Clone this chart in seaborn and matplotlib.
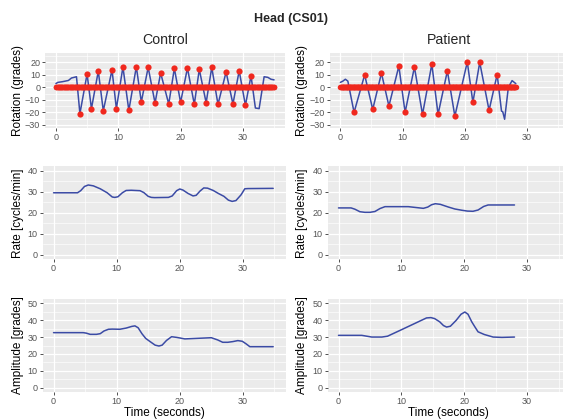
import numpy as np
import matplotlib
matplotlib.use('Agg')
import matplotlib.pyplot as plt
import seaborn as sns
from matplotlib import ticker

# ── Data ──────────────────────────────────────────────────────────────────────

# Control rotation: detected peaks (red dots) + remaining shape points of the trace
ctrl_peak_t = [3.85, 5.0, 5.7, 6.8, 7.6, 9.0, 9.7, 10.75, 11.7, 12.9, 13.7, 14.8, 15.9, 16.8,
               18.1, 19.0, 20.0, 21.1, 22.2, 23.0, 24.1, 25.0, 26.0, 27.3, 28.4, 29.4, 30.4, 31.3]
ctrl_peak_y = [-21, 10.7, -17, 13, -18.7, 14, -17, 16.3, -18.4, 16.5, -11.7, 16, -12.5, 11.5,
               -13.3, 15.2, -12, 15.5, -13.6, 14.4, -12.3, 16, -13.6, 12.3, -13.3, 13.3, -14.4, 9.3]
ctrl_other_t = [0, 0.3, 1.0, 2.0, 2.5, 3.3, 32.0, 32.6, 33.4, 34.0, 34.5, 35.0]
ctrl_other_y = [3, 4, 4.5, 5.5, 7.5, 8.5, -16.5, -17, 8.5, 8, 6.5, 6]

# Patient rotation
pat_peak_t = [2.2, 3.9, 5.2, 6.6, 7.8, 9.4, 10.4, 11.9, 13.2, 14.7, 15.7, 17.2, 18.4,
              20.4, 21.3, 22.4, 23.9, 25.2]
pat_peak_y = [-20, 10, -17.6, 11.4, -14.9, 17, -20, 16.2, -21.6, 18.6, -21.6, 13.2, -23,
              20.3, -12, 20, -18.4, 10.3]
pat_other_t = [0, 0.4, 0.8, 1.2, 25.9, 26.1, 26.4, 27.0, 27.6, 28.2]
pat_other_y = [4, 5, 6.5, 5, -19, -19.5, -25.5, 0, 5.4, 3]

ctrl_end = 35.0
pat_end = 28.2

# Rate [cycles/min]
ctrl_rate_t = [0, 3.8, 4.3, 4.9, 5.5, 6.3, 7.4, 8.5, 9.3, 9.7, 10.2, 10.9, 11.5, 12.3, 13.7,
               14.3, 15.0, 15.5, 16.0, 18.2, 18.8, 19.5, 20.0, 20.5, 21.3, 22.1, 22.6, 23.2,
               23.8, 24.4, 25.3, 26.1, 27.0, 27.7, 28.3, 28.9, 29.7, 30.3, 30.8, 34.8]
ctrl_rate_y = [29.5, 29.5, 30.5, 32.5, 33.2, 32.8, 31.4, 29.5, 27.5, 27.3, 27.6, 29.5, 30.6, 30.7, 30.5,
               29.6, 27.8, 27.3, 27.2, 27.3, 28.0, 30.5, 31.3, 30.8, 29.2, 28.0, 28.3, 30.3,
               31.8, 31.7, 30.6, 29.2, 27.8, 26.0, 25.4, 25.8, 28.5, 31.4, 31.5, 31.6]
pat_rate_t = [0, 2.0, 2.6, 3.4, 4.2, 5.0, 5.8, 6.6, 7.4, 11.1, 13.5, 14.2, 14.8, 15.4, 16.2,
              17.5, 18.5, 19.6, 20.5, 21.4, 22.2, 23.1, 23.8, 28.0]
pat_rate_y = [22.3, 22.3, 21.7, 20.5, 20.2, 20.2, 20.6, 22.0, 22.9, 22.9, 22.1, 22.7, 23.8, 24.3, 24.0,
              22.7, 21.8, 21.2, 20.8, 20.7, 21.3, 23.0, 23.7, 23.7]

# Amplitude [grades]
ctrl_amp_t = [0, 4.7, 5.2, 5.8, 6.8, 7.4, 8.0, 8.7, 9.3, 10.5, 11.5, 12.4, 12.9, 13.4, 14.0,
              14.6, 15.3, 16.1, 16.7, 17.2, 17.9, 18.7, 19.5, 20.8, 25.0, 26.0, 26.8, 27.6,
              28.4, 29.2, 29.9, 30.5, 31.1, 31.8, 34.8]
ctrl_amp_y = [32.6, 32.6, 32.3, 31.6, 31.6, 32.0, 33.6, 34.6, 34.7, 34.6, 35.3, 36.3, 36.6, 35.5, 32.0,
              29.2, 27.3, 25.2, 24.7, 25.2, 28.0, 30.2, 29.8, 28.9, 29.6, 28.3, 26.9, 26.9,
              27.3, 27.9, 27.5, 26.0, 24.3, 24.3, 24.3]
pat_amp_t = [0, 3.7, 4.5, 5.3, 6.9, 7.8, 10.0, 12.0, 14.0, 14.7, 15.3, 16.1, 16.7, 17.2, 17.8,
             18.7, 19.5, 20.1, 20.6, 21.2, 21.7, 22.2, 23.2, 24.6, 26.0, 28.0]
pat_amp_y = [31.0, 31.0, 30.5, 30.0, 30.0, 30.5, 34.3, 37.8, 41.3, 41.5, 40.9, 39.0, 36.8, 35.9, 36.4,
             39.8, 43.5, 44.8, 43.5, 39.0, 36.0, 33.1, 31.5, 30.0, 29.8, 30.0]

line_color = '#3B4BA5'
dot_color = '#F0281E'

# ── Style ─────────────────────────────────────────────────────────────────────

sns.set_theme(style='darkgrid', rc={'axes.facecolor': '#EBEBEB', 'grid.color': 'white'})
plt.rcParams['font.family'] = ['Liberation Sans', 'DejaVu Sans']

W, H = 563, 419
fig = plt.figure(figsize=(W / 100, H / 100), dpi=100)
fig.patch.set_facecolor('white')


def px_axes(left, top, right, bottom):
    return fig.add_axes([left / W, 1 - bottom / H, (right - left) / W, (bottom - top) / H])


def style_axes(ax, ylim, ymajor, ylabel, label_x_px, left_px, right_px):
    ax.set_xlim(-1.75, 36.75)
    ax.set_ylim(*ylim)
    ax.xaxis.set_major_locator(ticker.MultipleLocator(10))
    ax.xaxis.set_minor_locator(ticker.MultipleLocator(5))
    ax.yaxis.set_major_locator(ticker.MultipleLocator(ymajor))
    ax.yaxis.set_minor_locator(ticker.MultipleLocator(ymajor / 2))
    ax.grid(which='major', color='white', lw=0.9)
    ax.grid(which='minor', color='white', lw=0.45)
    ax.set_axisbelow(True)
    for s in ax.spines.values():
        s.set_visible(False)
    ax.tick_params(which='major', bottom=True, left=True, length=2, width=0.6,
                   color='#333333', labelsize=6.5, labelcolor='#555555', pad=1.5)
    ax.tick_params(which='minor', length=0)
    ax.set_xlabel('')
    ax.set_ylabel(ylabel, fontsize=8.5, color='black', va='center')
    ax.yaxis.set_label_coords((label_x_px - left_px) / (right_px - left_px), 0.5)


# panel boxes in pixels: (left, top, right, bottom)
cols = [
    {'top': (45, 53, 285, 128), 'mid': (42.5, 166.5, 285.5, 259), 'bot': (42.5, 299, 285.5, 392), 'lab': 17.7,
     'rot': (ctrl_peak_t, ctrl_peak_y, ctrl_other_t, ctrl_other_y, ctrl_end),
     'rate': (ctrl_rate_t, ctrl_rate_y), 'amp': (ctrl_amp_t, ctrl_amp_y), 'title': 'Control'},
    {'top': (329.5, 53, 569, 128), 'mid': (327.5, 166.5, 569.5, 259), 'bot': (327.5, 299, 569.5, 392), 'lab': 302.5,
     'rot': (pat_peak_t, pat_peak_y, pat_other_t, pat_other_y, pat_end),
     'rate': (pat_rate_t, pat_rate_y), 'amp': (pat_amp_t, pat_amp_y), 'title': 'Patient'},
]

for c in cols:
    # ── Rotation ──
    peak_t, peak_y, other_t, other_y, t_end = c['rot']
    t_all = np.array(list(peak_t) + list(other_t))
    y_all = np.array(list(peak_y) + list(other_y))
    order = np.argsort(t_all)
    ax = px_axes(*c['top'])
    sns.lineplot(x=t_all[order], y=y_all[order], ax=ax, color=line_color, lw=1.1, sort=False, zorder=2)
    zero_t = np.linspace(0, t_end, 400)
    sns.scatterplot(x=zero_t, y=np.zeros_like(zero_t), ax=ax, color=dot_color, s=16,
                    linewidth=0, zorder=3)
    sns.scatterplot(x=peak_t, y=peak_y, ax=ax, color=dot_color, s=20, linewidth=0, zorder=4)
    style_axes(ax, (-32.5, 27.5), 10, 'Rotation (grades)', c['lab'], c['top'][0], c['top'][2])
    ax.set_yticks([-30, -20, -10, 0, 10, 20])
    ax.set_ylim(-32.5, 27.5)
    cx = (c['top'][0] + c['top'][2]) / 2
    fig.text(cx / W, 1 - 40 / H, c['title'], ha='center', va='center', fontsize=10.2)

    # ── Rate ──
    ax = px_axes(*c['mid'])
    sns.lineplot(x=c['rate'][0], y=c['rate'][1], ax=ax, color=line_color, lw=1.1)
    style_axes(ax, (-2, 42), 10, 'Rate [cycles/min]', c['lab'], c['mid'][0], c['mid'][2])

    # ── Amplitude ──
    ax = px_axes(*c['bot'])
    sns.lineplot(x=c['amp'][0], y=c['amp'][1], ax=ax, color=line_color, lw=1.1)
    style_axes(ax, (-2.5, 52.5), 10, 'Amplitude [grades]', c['lab'], c['bot'][0], c['bot'][2])
    ax.set_xlabel('Time (seconds)', fontsize=8.5, color='black', va='center')
    ax.xaxis.set_label_coords(0.5, -(412.5 - c['bot'][3]) / (c['bot'][3] - c['bot'][1]))

fig.text(291 / W, 1 - 19 / H, 'Head (CS01)', ha='center', va='center', fontsize=9, fontweight='bold')

fig.savefig('out.png', dpi=100)
